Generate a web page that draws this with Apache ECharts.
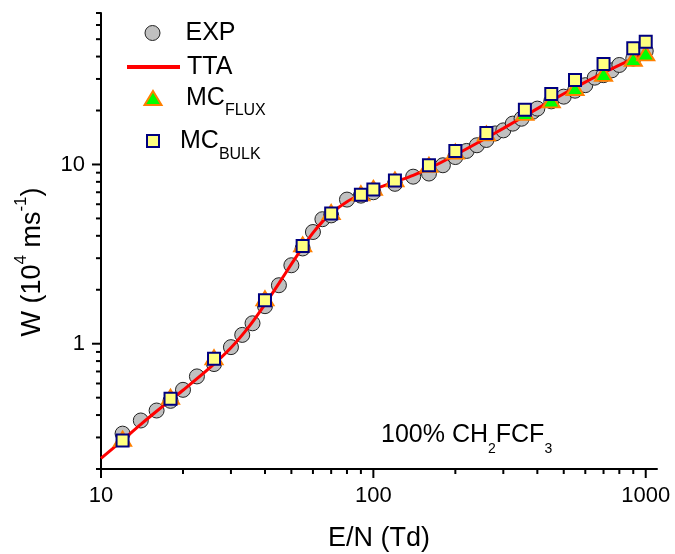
<!DOCTYPE html>
<html><head><meta charset="utf-8">
<script src="https://cdn.jsdelivr.net/npm/echarts@6/dist/echarts.min.js"></script>
<style>html,body{margin:0;padding:0;background:#fff}#c{width:675px;height:554px}</style>
</head><body><div id="c"></div>
<script>
// ---- data ----
const expEN = [12,14,16,18,20,22.5,26,30,33,36,40,45,50,55,60,65,70,80,90,100,120,140,160,180,200,220,240,260,280,300,325,350,385,400,450,500,550,600,650,700,750,800,900,1000];
const expW  = [0.315,0.373,0.424,0.48,0.553,0.657,0.77,0.957,1.12,1.30,1.62,2.12,2.74,3.40,4.2,4.95,5.2,6.37,6.7,7.0,7.8,8.55,8.9,9.9,11.0,11.9,12.8,13.7,14.9,15.5,16.9,18.0,19.7,20.5,22.5,23.9,25.8,27.7,30.5,31.5,33.5,35.9,39.0,43.0];
const ttaEN = [10,12,14,16,18,20,25,30,35,40,45,50,55,60,65,70,80,90,100,120,140,160,200,250,300,400,500,600,700,800,900,1000];
const ttaW  = [0.229,0.29,0.355,0.42,0.485,0.55,0.73,0.95,1.25,1.66,2.17,2.78,3.45,4.15,4.8,5.35,6.2,6.8,7.25,8.0,8.7,9.5,11.3,13.6,15.9,20.5,24.8,28.8,32.5,35.8,39.0,42.0];
const mcEN  = [12,18,26,40,55,70,90,100,120,160,200,260,360,450,550,700,900,1000];
const fluxW = [0.295,0.505,0.84,1.79,3.58,5.42,6.9,7.4,8.25,9.95,11.8,14.9,19.4,22.8,26.7,32.0,38.8,41.7];
const bulkW = [0.288,0.493,0.825,1.75,3.51,5.32,6.77,7.25,8.13,9.91,11.9,15.0,20.2,24.7,29.6,36.3,44.5,48.4];
const xMajorTicks = [10,100,1000];
const xMinorTicks = [20,30,40,50,60,70,80,90,200,300,400,500,600,700,800,900];
const yMajorTicks = [1,10];
const yMinorTicks = [0.2,0.3,0.4,0.5,0.6,0.7,0.8,0.9,2,3,4,5,6,7,8,9,20,30,40,50,60,70];
const X_MIN = 10, X_MAX = 1100, Y_MIN = 0.2, Y_MAX = 70;

// ---- chart ----
const FONT = "'Liberation Sans', Arial, sans-serif";
const zip = (a, b) => a.map((v, i) => [v, b[i]]);
const chart = echarts.init(document.getElementById('c'), null, {renderer: 'canvas'});

function tickSeries(values, majors, isX) {
  return {
    type: 'custom', silent: true, z: 10, clip: false,
    data: values.map(v => isX ? [v, Y_MIN] : [X_MIN, v]),
    renderItem: function (params, api) {
      const v = api.value(isX ? 0 : 1);
      const len = majors.indexOf(v) >= 0 ? 9 : 5;
      const p = api.coord([api.value(0), api.value(1)]);
      return {
        type: 'line',
        shape: isX ? {x1: p[0], y1: p[1], x2: p[0], y2: p[1] + len}
                   : {x1: p[0] - len, y1: p[1], x2: p[0], y2: p[1]},
        style: {stroke: '#000', lineWidth: 2}
      };
    }
  };
}

function legendFor(item, left, top, w, h, padL, subPad, keep, itemStyle) {
  return {
    data: [item], left: left, top: top, padding: 0, orient: 'vertical',
    itemWidth: w, itemHeight: h, symbolKeepAspect: keep,
    itemStyle: itemStyle,
    selectedMode: false,
    formatter: function (n) {
      if (n === 'MC_FLUX') return '{n|MC}{s|FLUX}';
      if (n === 'MC_BULK') return '{n|MC}{s|BULK}';
      return '{n|' + n + '}';
    },
    textStyle: {
      color: '#000', fontFamily: FONT, fontSize: 25,
      rich: {
        n: {fontSize: 25, lineHeight: 25, fontFamily: FONT, color: '#000', padding: [0, 0, 0, padL]},
        s: {fontSize: 16, lineHeight: 16, fontFamily: FONT, color: '#000', padding: [subPad, 0, 0, 0]}
      }
    }
  };
}

const option = {
  animation: false,
  backgroundColor: '#fff',
  grid: {left: 101, top: 13, width: 556, height: 456, containLabel: false, outerBoundsMode: 'none'},
  xAxis: {
    type: 'log', logBase: 10, min: X_MIN, max: X_MAX,
    axisLine: {lineStyle: {color: '#000', width: 2}},
    axisTick: {show: false}, minorTick: {show: false},
    splitLine: {show: false},
    axisLabel: {
      color: '#000', fontSize: 22, fontFamily: FONT, margin: 16,
      showMinLabel: true, showMaxLabel: false,
      formatter: v => String(+(+v).toPrecision(6))
    },
    name: 'E/N (Td)', nameLocation: 'middle', nameGap: 56,
    nameTextStyle: {color: '#000', fontSize: 27, fontFamily: FONT}
  },
  yAxis: {
    type: 'log', logBase: 10, min: Y_MIN, max: Y_MAX,
    axisLine: {lineStyle: {color: '#000', width: 2}},
    axisTick: {show: false}, minorTick: {show: false},
    splitLine: {show: false},
    axisLabel: {
      color: '#000', fontSize: 22, fontFamily: FONT, margin: 16,
      showMinLabel: false, showMaxLabel: false,
      formatter: v => String(+(+v).toPrecision(6))
    }
  },
  legend: [
    legendFor('EXP', 144.5, 20.5, 15, 15, 20.5, 0, true, {color: '#c0c0c0', borderColor: '#222', borderWidth: 1}),
    legendFor({name: 'TTA', icon: 'rect'}, 127, 54.5, 53, 4, 2, 0, false, {color: '#ff0000', borderWidth: 0}),
    legendFor('MC_FLUX', 143.5, 77, 17, 14, 19.5, 26, false, {color: '#00ff00', borderColor: '#ff8000', borderWidth: 2}),
    legendFor('MC_BULK', 146, 119, 12, 12, 16, 28, true, {color: '#ffff80', borderColor: '#000080', borderWidth: 2})
  ],
  graphic: [
    {
      type: 'text', x: 33, y: 262, rotation: Math.PI / 2,
      style: {
        text: '{a|W (10}{b|4}{a| ms}{b|-1}{a|)}',
        align: 'center', verticalAlign: 'middle',
        rich: {
          a: {fontSize: 27, lineHeight: 27, fontFamily: FONT, fill: '#000'},
          b: {fontSize: 17, lineHeight: 17, fontFamily: FONT, fill: '#000', padding: [0, 0, 24, 0]}
        }
      }
    },
    {
      type: 'text', x: 381, y: 435,
      style: {
        text: '{a|100% CH}{b|2}{a|FCF}{b|3}',
        align: 'left', verticalAlign: 'middle',
        rich: {
          a: {fontSize: 25, lineHeight: 25, fontFamily: FONT, fill: '#000'},
          b: {fontSize: 14, lineHeight: 14, fontFamily: FONT, fill: '#000', padding: [28, 0, 0, 0]}
        }
      }
    }
  ],
  series: [
    {
      name: 'EXP', type: 'scatter', data: zip(expEN, expW), z: 2,
      symbol: 'circle', symbolSize: 15,
      itemStyle: {color: '#c0c0c0', borderColor: '#222', borderWidth: 1, opacity: 1}
    },
    {
      name: 'TTA', type: 'line', data: zip(ttaEN, ttaW), z: 3,
      symbol: 'none', showSymbol: false, smooth: 0.3,
      lineStyle: {color: '#ff0000', width: 3}, itemStyle: {color: '#ff0000'}
    },
    {
      name: 'MC_FLUX', type: 'scatter', data: zip(mcEN, fluxW), z: 4,
      symbol: 'triangle', symbolSize: [17, 14],
      itemStyle: {color: '#00ff00', borderColor: '#ff8000', borderWidth: 2, opacity: 1}
    },
    {
      name: 'MC_BULK', type: 'scatter', data: zip(mcEN, bulkW), z: 5,
      symbol: 'rect', symbolSize: 12,
      itemStyle: {color: '#ffff80', borderColor: '#000080', borderWidth: 2, opacity: 1}
    },
    tickSeries(xMajorTicks.concat(xMinorTicks), xMajorTicks, true),
    tickSeries(yMajorTicks.concat(yMinorTicks), yMajorTicks, false)
  ]
};
chart.setOption(option);
</script></body></html>
